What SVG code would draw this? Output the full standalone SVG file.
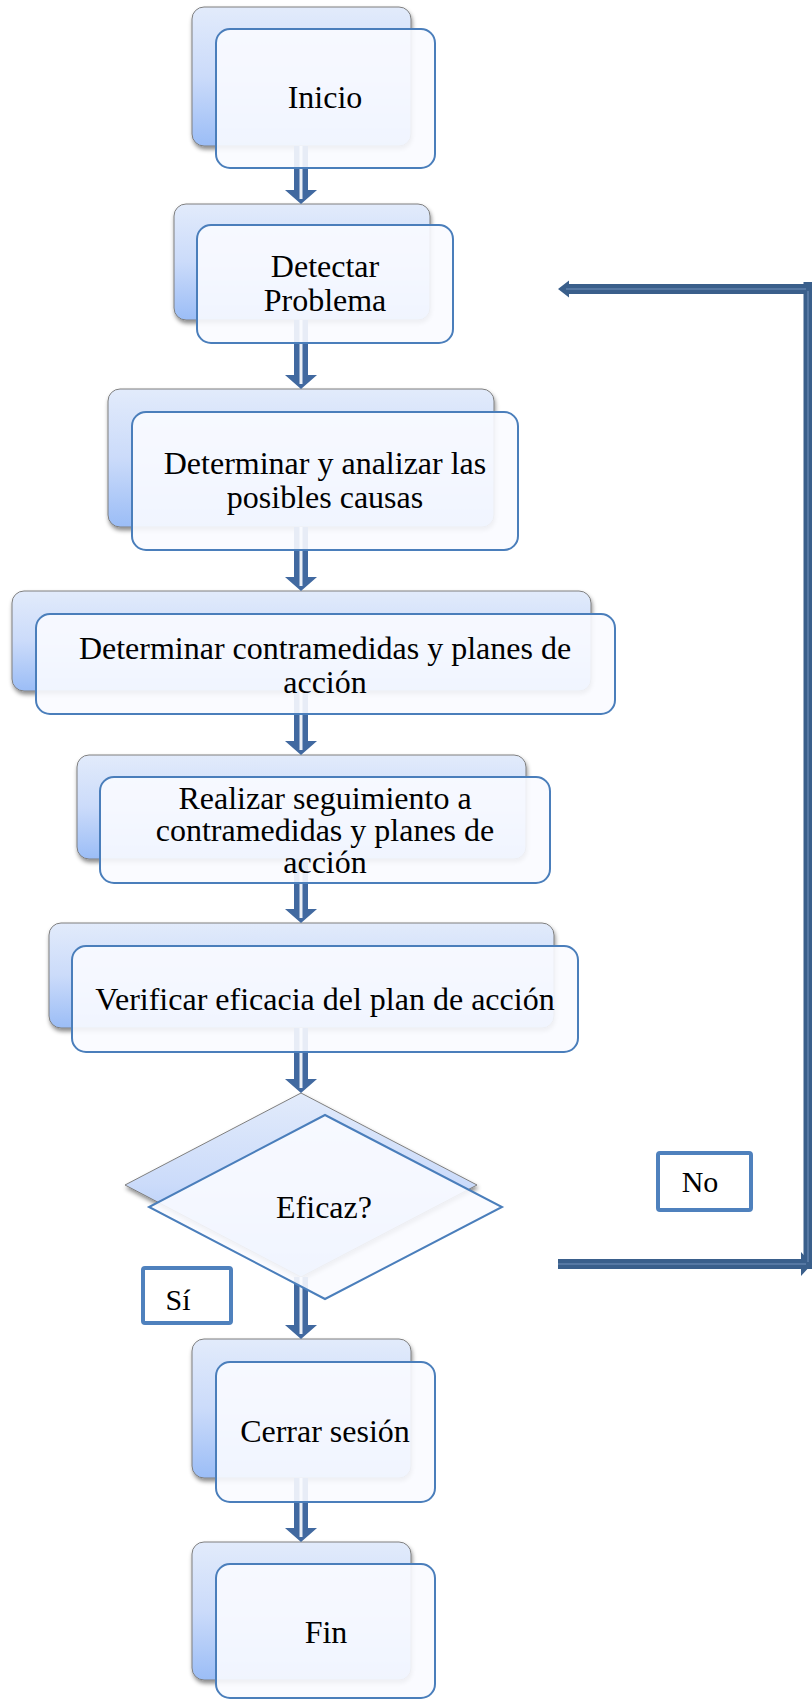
<svg xmlns="http://www.w3.org/2000/svg" width="812" height="1699" viewBox="0 0 812 1699">
<defs>
<linearGradient id="bg" x1="0" y1="0" x2="0" y2="1">
<stop offset="0" stop-color="#e2ebfb"/>
<stop offset="0.5" stop-color="#cbdbfa"/>
<stop offset="1" stop-color="#9bbdf6"/>
</linearGradient>
<filter id="sh" x="-10%" y="-10%" width="120%" height="130%">
<feDropShadow dx="1" dy="3" stdDeviation="2" flood-color="#000" flood-opacity="0.45"/>
</filter>
</defs>
<style>
.back{fill:url(#bg);stroke:#7f7f7f;stroke-width:1;filter:url(#sh)}
.front{fill:#f9fbff;fill-opacity:0.9;stroke:#4a7ebb;stroke-width:2}
.t{font-family:"Liberation Serif","Times New Roman",serif;font-size:32px;fill:#000;text-anchor:middle}
.lbl{fill:#fff;stroke:#4f81bd;stroke-width:4}
.lt{font-family:"Liberation Serif","Times New Roman",serif;font-size:30px;fill:#000;text-anchor:middle}
.ar{fill:#4169a0}
.aw{stroke:#fff;stroke-width:3;stroke-opacity:0.9}
.ret{fill:#3a5f8b}
</style>

<g id="node-inicio">
<rect class="back" x="192" y="7" width="219" height="139" rx="12"/>
</g>
<g id="node-detectar">
<rect class="back" x="174" y="204" width="256" height="116" rx="12"/>
</g>
<g id="node-analizar">
<rect class="back" x="108" y="389" width="386" height="138" rx="12"/>
</g>
<g id="node-contramedidas">
<rect class="back" x="12" y="591" width="579" height="100" rx="12"/>
</g>
<g id="node-seguimiento">
<rect class="back" x="77" y="755" width="449" height="104" rx="12"/>
</g>
<g id="node-verificar">
<rect class="back" x="49" y="923" width="505" height="105" rx="12"/>
</g>
<g id="node-eficaz">
<polygon class="back" points="301,1093 477,1185 301,1277 125,1185"/>
</g>
<g id="node-cerrar">
<rect class="back" x="192" y="1339" width="219" height="139" rx="12"/>
</g>
<g id="node-fin">
<rect class="back" x="192" y="1542" width="219" height="138" rx="12"/>
</g>

<g id="connectors">
<g class="ar">
<path d="M294,146 L308,146 L308,190 L317,190 L301,204 L285,190 L294,190 Z"/>
<path d="M294,320 L308,320 L308,375 L317,375 L301,389 L285,375 L294,375 Z"/>
<path d="M294,527 L308,527 L308,577 L317,577 L301,591 L285,577 L294,577 Z"/>
<path d="M294,691 L308,691 L308,741 L317,741 L301,755 L285,741 L294,741 Z"/>
<path d="M294,859 L308,859 L308,909 L317,909 L301,923 L285,909 L294,909 Z"/>
<path d="M294,1028 L308,1028 L308,1079 L317,1079 L301,1093 L285,1079 L294,1079 Z"/>
<path d="M294,1277 L308,1277 L308,1325 L317,1325 L301,1339 L285,1325 L294,1325 Z"/>
<path d="M294,1478 L308,1478 L308,1528 L317,1528 L301,1542 L285,1528 L294,1528 Z"/>
</g>
<g class="aw">
<line x1="301" y1="146" x2="301" y2="199"/>
<line x1="301" y1="320" x2="301" y2="384"/>
<line x1="301" y1="527" x2="301" y2="586"/>
<line x1="301" y1="691" x2="301" y2="750"/>
<line x1="301" y1="859" x2="301" y2="918"/>
<line x1="301" y1="1028" x2="301" y2="1088"/>
<line x1="301" y1="1277" x2="301" y2="1334"/>
<line x1="301" y1="1478" x2="301" y2="1537"/>
</g>
<g class="ret">
<path d="M812,284 L569,284 L569,280.5 L558,289 L569,297.5 L569,294 L812,294 Z"/>
<rect x="803.5" y="282" width="8.5" height="987"/>
<path d="M558,1259 L801,1259 L801,1252 L812,1264 L801,1276 L801,1269 L558,1269 Z"/>
</g>
<g stroke="#6f8fb8" stroke-width="1.5" opacity="0.7">
<line x1="566" y1="289" x2="806" y2="289"/>
<line x1="808" y1="291" x2="808" y2="1262"/>
<line x1="558" y1="1264" x2="806" y2="1264"/>
</g>
</g>

<g id="front-inicio">
<rect class="front" x="216" y="29" width="219" height="139" rx="14"/>
<text class="t" x="325" y="108">Inicio</text>
</g>
<g id="front-detectar">
<rect class="front" x="197" y="225" width="256" height="118" rx="14"/>
<text class="t" x="325" y="277">Detectar</text>
<text class="t" x="325" y="311">Problema</text>
</g>
<g id="front-analizar">
<rect class="front" x="132" y="412" width="386" height="138" rx="14"/>
<text class="t" x="325" y="474">Determinar y analizar las</text>
<text class="t" x="325" y="508">posibles causas</text>
</g>
<g id="front-contramedidas">
<rect class="front" x="36" y="614" width="579" height="100" rx="14"/>
<text class="t" x="325" y="659">Determinar contramedidas y planes de</text>
<text class="t" x="325" y="693">acción</text>
</g>
<g id="front-seguimiento">
<rect class="front" x="100" y="777" width="450" height="106" rx="14"/>
<text class="t" x="325" y="809">Realizar seguimiento a</text>
<text class="t" x="325" y="841">contramedidas y planes de</text>
<text class="t" x="325" y="873">acción</text>
</g>
<g id="front-verificar">
<rect class="front" x="72" y="946" width="506" height="106" rx="14"/>
<text class="t" x="325" y="1010">Verificar eficacia del plan de acción</text>
</g>
<g id="front-eficaz">
<polygon class="front" points="325,1115 502,1207 325,1299 149,1207"/>
<text class="t" x="324" y="1218">Eficaz?</text>
</g>
<g id="front-cerrar">
<rect class="front" x="216" y="1362" width="219" height="140" rx="14"/>
<text class="t" x="325" y="1442">Cerrar sesión</text>
</g>
<g id="front-fin">
<rect class="front" x="216" y="1564" width="219" height="134" rx="14"/>
<text class="t" x="326" y="1643">Fin</text>
</g>

<g id="label-si">
<rect class="lbl" x="143" y="1268" width="88" height="55" rx="2"/>
<text class="lt" x="178" y="1310">Sí</text>
</g>
<g id="label-no">
<rect class="lbl" x="658" y="1153" width="93" height="57" rx="2"/>
<text class="lt" x="700" y="1192">No</text>
</g>
</svg>
